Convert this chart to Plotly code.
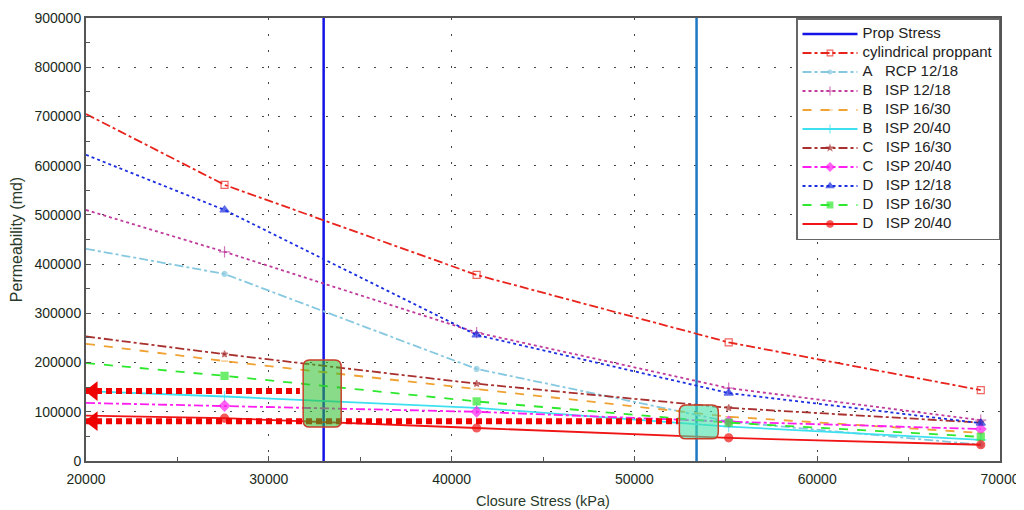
import plotly.graph_objects as go

# ---- data ----
stress = [20000, 27579, 41369, 55158, 68948]

cyl_prop = [705000, 561000, 378000, 241000, 144000]
a_rcp_1218 = [431000, 380000, 187000, 80000, 33000]
b_isp_1218 = [510000, 425000, 261000, 148000, 83000]
b_isp_1630 = [238000, 203000, 146000, 90000, 57000]
b_isp_2040 = [142000, 131000, 108000, 70000, 43000]
c_isp_1630 = [253000, 217000, 157000, 108000, 78000]
c_isp_2040 = [118000, 112000, 100000, 80000, 65000]
d_isp_1218 = [622000, 510000, 256000, 138000, 77000]
d_isp_1630 = [199000, 173000, 121000, 78000, 49000]
d_isp_2040 = [92000, 87000, 67000, 47000, 33000]

prop_stress_1 = 33000
prop_stress_2 = 53400
y_span = [0, 900000]

arrow_hi = 142000
arrow_lo = 81000
arrow_hi_end = 31700
arrow_lo_end = 52400

box1 = dict(x0=31880, x1=33960, y0=69000, y1=205000)
box2 = dict(x0=52460, x1=54590, y0=45000, y1=114000)

x_ticks = [20000, 30000, 40000, 50000, 60000, 70000]
y_ticks = list(range(0, 900001, 100000))

# ---- styles ----
NB = "\u00a0\u00a0\u00a0"
series = [
    ("cylindrical proppant", cyl_prop, "#e8231c", "dashdot", "square-open", 7),
    ("A" + NB + "RCP 12/18", a_rcp_1218, "#86c8e0", "dashdot", "circle", 5),
    ("B" + NB + "ISP 12/18", b_isp_1218, "#c03a9c", "dot", "cross-thin-open", 8),
    ("B" + NB + "ISP 16/30", b_isp_1630, "#f0a232", "dash", "line-ew-open", 5),
    ("B" + NB + "ISP 20/40", b_isp_2040, "#3ee0f0", "solid", "cross-thin-open", 8),
    ("C" + NB + "ISP 16/30", c_isp_1630, "#a8302e", "dashdot", "star", 5),
    ("C" + NB + "ISP 20/40", c_isp_2040, "#ff1ef0", "dashdot", "diamond", 8),
    ("D" + NB + "ISP 12/18", d_isp_1218, "#1c2ee0", "dot", "triangle-up", 8),
    ("D" + NB + "ISP 16/30", d_isp_1630, "#2ee82e", "dash", "square", 7),
    ("D" + NB + "ISP 20/40", d_isp_2040, "#f01414", "solid", "circle", 8),
]


def lg(text):
    return '<span style="font-size:15px">' + text + "</span>"


fig = go.Figure()

# Prop stress vertical lines
fig.add_trace(go.Scatter(x=[prop_stress_1, prop_stress_1], y=y_span, mode="lines",
                         line=dict(color="#1414e6", width=2.5), name=lg("Prop Stress")))
fig.add_trace(go.Scatter(x=[prop_stress_2, prop_stress_2], y=y_span, mode="lines",
                         line=dict(color="#1c78c4", width=2.5), showlegend=False))

for name, vals, color, dash, sym, size in series:
    sizes = [0] + [size] * (len(vals) - 1)
    fig.add_trace(go.Scatter(
        x=stress, y=vals, mode="lines+markers", name=lg(name),
        line=dict(color=color, dash=dash, width=1.8),
        marker=dict(symbol=sym, size=sizes, color=color,
                    line=dict(color=color, width=1.2)),
    ))

# red dotted arrows
for yv, xend in [(arrow_hi, arrow_hi_end), (arrow_lo, arrow_lo_end)]:
    fig.add_trace(go.Scatter(x=[20000, xend], y=[yv, yv], mode="lines",
                             line=dict(color="#ee0000", width=6, dash="6px,4px"),
                             showlegend=False, hoverinfo="skip"))
    fig.add_trace(go.Scatter(x=[20400], y=[yv], mode="markers",
                             marker=dict(symbol="triangle-left", size=17, color="#ee0000"),
                             showlegend=False, cliponaxis=False, hoverinfo="skip"))


def rounded(b, rx=350, ry=14000):
    x0, x1, y0, y1 = b["x0"], b["x1"], b["y0"], b["y1"]
    return (f"M {x0+rx},{y0} L {x1-rx},{y0} Q {x1},{y0} {x1},{y0+ry} "
            f"L {x1},{y1-ry} Q {x1},{y1} {x1-rx},{y1} L {x0+rx},{y1} "
            f"Q {x0},{y1} {x0},{y1-ry} L {x0},{y0+ry} Q {x0},{y0} {x0+rx},{y0} Z")


fig.add_shape(type="path", path=rounded(box1), xref="x", yref="y",
              fillcolor="rgba(40,190,40,0.55)", line=dict(color="#c8402a", width=1.5))
fig.add_shape(type="path", path=rounded(box2), xref="x", yref="y",
              fillcolor="rgba(70,225,170,0.6)", line=dict(color="#c8402a", width=1.5))

axis_font = dict(family="Liberation Sans, Arial", size=14, color="#1a2a1a")
fig.update_xaxes(range=[20000, 70000], tickvals=x_ticks, tickformat="d",
                 automargin=False, ticklabelstandoff=4,
                 showline=True, linecolor="#555", linewidth=2, mirror=True,
                 ticks="inside", ticklen=5, tickcolor="#555",
                 minor=dict(dtick=5000, ticks="inside", ticklen=4, tickcolor="#555"),
                 showgrid=True, gridcolor="#444", griddash="2px,14px", gridwidth=1,
                 zeroline=False, tickfont=axis_font,
                 title=dict(text="Closure Stress (kPa)", standoff=10,
                            font=dict(family="Liberation Sans, Arial", size=14.5, color="#2a3a2a")))
fig.update_yaxes(range=[0, 900000], tickvals=y_ticks, tickformat="d",
                 automargin=False,
                 showline=True, linecolor="#555", linewidth=2, mirror=True,
                 ticks="inside", ticklen=5, tickcolor="#555",
                 minor=dict(dtick=50000, ticks="inside", ticklen=4, tickcolor="#555"),
                 showgrid=True, gridcolor="#444", griddash="2px,14px", gridwidth=1,
                 zeroline=False, tickfont=axis_font,
                 title=dict(text="Permeability (md)", standoff=8,
                            font=dict(family="Liberation Sans, Arial", size=16, color="#2a3a2a")))

fig.update_layout(
    width=1016, height=502,
    margin=dict(l=78, r=24, t=10, b=49),
    paper_bgcolor="white", plot_bgcolor="white",
    showlegend=True,
    legend=dict(x=1, y=1, xanchor="right", yanchor="top",
                bgcolor="white", bordercolor="#666", borderwidth=1.5,
                font=dict(family="Liberation Sans, Arial", size=10, color="#222"),
                tracegroupgap=0, itemwidth=55),
)

fig.write_html("out.html")
